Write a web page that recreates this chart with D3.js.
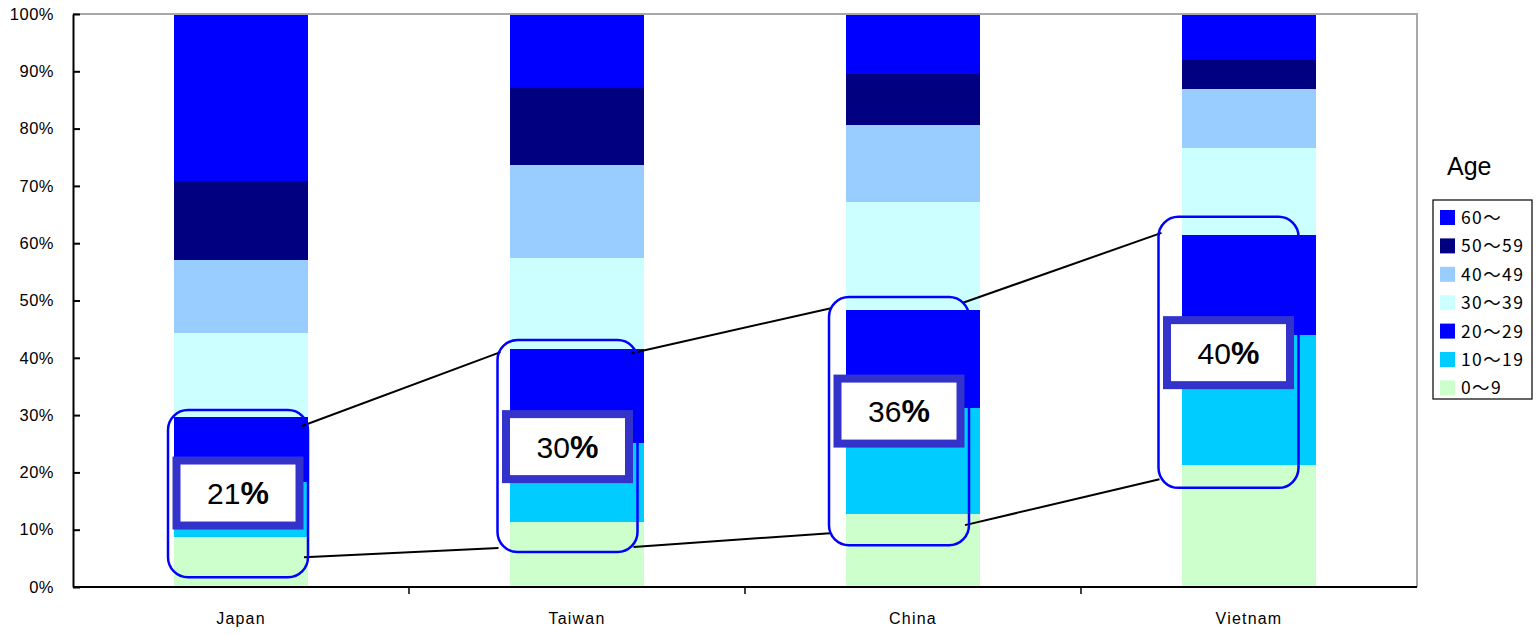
<!DOCTYPE html>
<html>
<head>
<meta charset="utf-8">
<script src="https://cdn.jsdelivr.net/npm/d3@7"></script>
<style>
  html, body { margin: 0; padding: 0; background: #fff; }
  svg { display: block; }
</style>
</head>
<body>
<svg id="chart" width="1537" height="635"></svg>
<script>
// Share of each age group (%), stacked from youngest to oldest
const countries = ["Japan", "Taiwan", "China", "Vietnam"];
const ageGroups = ["0～9", "10～19", "20～29", "30～39", "40～49", "50～59", "60～"];
const age0to9   = [8.7, 11.4, 12.7, 21.3];
const age10to19 = [9.7, 13.8, 18.6, 22.6];
const age20to29 = [11.3, 16.4, 17.0, 17.5];
const age30to39 = [14.7, 15.9, 18.9, 15.3];
const age40to49 = [12.7, 16.1, 13.4, 10.2];
const age50to59 = [13.8, 13.5, 8.9, 5.1];
const age60plus = [29.1, 12.9, 10.5, 8.0];
const yTicks = [0, 10, 20, 30, 40, 50, 60, 70, 80, 90, 100];

// Callout range around the 10–29 bracket (in % units)
const calloutTop    = [30.9, 43.1, 50.6, 64.6];
const calloutBottom = [1.7, 6.1, 7.3, 17.3];
const labelCenter   = [16.4, 24.5, 30.7, 40.9];

// Connector heights (in % units) leaving one callout and reaching the next
const upperFrom = [28.1, 40.8, 49.6];
const upperTo   = [41.0, 48.7, 61.8];
const lowerFrom = [5.2, 7.0, 10.8];
const lowerTo   = [6.8, 9.4, 18.8];

const colors = {
  "0～9": "#CCFFCC",
  "10～19": "#00CCFF",
  "20～29": "#0000FF",
  "30～39": "#CCFFFF",
  "40～49": "#99CCFF",
  "50～59": "#000080",
  "60～": "#0000FF"
};

const seriesValues = [age0to9, age10to19, age20to29, age30to39, age40to49, age50to59, age60plus];
const rows = countries.map((c, i) => {
  const r = { country: c };
  ageGroups.forEach((g, k) => { r[g] = seriesValues[k][i]; });
  return r;
});

const svg = d3.select("#chart");
const plot = { left: 73, right: 1417, top: 14, bottom: 587 };

const x = d3.scaleBand().domain(countries)
  .range([plot.left, plot.right]).paddingInner(0.6).paddingOuter(0.3);
const y = d3.scaleLinear().domain([0, 100]).range([plot.bottom, plot.top]);

const layers = d3.stack().keys(ageGroups)(rows);

// Bars
svg.append("g").selectAll("g").data(layers).join("g")
  .attr("fill", d => colors[d.key])
  .selectAll("rect").data(d => d).join("rect")
  .attr("x", d => x(d.data.country))
  .attr("width", x.bandwidth())
  .attr("y", d => y(d[1]))
  .attr("height", d => y(d[0]) - y(d[1]))
  .attr("shape-rendering", "crispEdges");

// Plot frame: grey top/right
svg.append("path")
  .attr("d", `M${plot.left},${plot.top}H${plot.right}V${plot.bottom}`)
  .attr("fill", "none").attr("stroke", "#a8a8a8").attr("stroke-width", 2);

// Y axis with inward ticks
const yAxis = d3.axisLeft(y).tickValues(yTicks)
  .tickFormat(d => d + "%").tickSizeInner(-7).tickSizeOuter(0).tickPadding(19);
const gy = svg.append("g").attr("transform", `translate(${plot.left},0)`).call(yAxis);
gy.select(".domain").attr("stroke", "#000").attr("stroke-width", 2);
gy.selectAll(".tick line").attr("stroke", "#000").attr("stroke-width", 2);
gy.selectAll("text").attr("font-family", "'Liberation Sans', Arial, sans-serif")
  .attr("font-size", 16.5).attr("fill", "#000").attr("letter-spacing", 0.5);

// X axis: baseline, separators between categories and labels
const step = x.step();
svg.append("line")
  .attr("x1", plot.left).attr("x2", plot.right)
  .attr("y1", plot.bottom).attr("y2", plot.bottom)
  .attr("stroke", "#000").attr("stroke-width", 2);
svg.append("g").selectAll("line").data(countries.slice(1)).join("line")
  .attr("x1", c => x(c) - (step - x.bandwidth()) / 2)
  .attr("x2", c => x(c) - (step - x.bandwidth()) / 2)
  .attr("y1", plot.bottom).attr("y2", plot.bottom + 7)
  .attr("stroke", "#000").attr("stroke-width", 1.5);
svg.append("g").selectAll("text").data(countries).join("text")
  .attr("x", c => x(c) + x.bandwidth() / 2)
  .attr("y", 624)
  .attr("text-anchor", "middle")
  .attr("font-family", "'Liberation Sans', Arial, sans-serif")
  .attr("font-size", 16).attr("letter-spacing", 1.2)
  .text(c => c);

// Callouts around the 10–29 share
const calloutShift = [-3, -9.5, -14, -20.5];
const boxW = 140;
const boxes = countries.map((c, i) => {
  const cx = x(c) + x.bandwidth() / 2 + calloutShift[i];
  return {
    cx,
    x0: cx - boxW / 2,
    x1: cx + boxW / 2,
    top: y(calloutTop[i]),
    bottom: y(calloutBottom[i]),
    labelY: y(labelCenter[i]),
    share: age10to19[i] + age20to29[i]
  };
});

// Connecting lines between neighbouring callouts
const links = d3.pairs(boxes).map((p, i) => ({ a: p[0], b: p[1], i }));
const gLinks = svg.append("g").attr("stroke", "#000").attr("stroke-width", 2);
gLinks.selectAll("line.up").data(links).join("line").attr("class", "up")
  .attr("x1", d => d.a.x1 - 6).attr("y1", d => y(upperFrom[d.i]))
  .attr("x2", d => d.b.x0 + 3).attr("y2", d => y(upperTo[d.i]));
gLinks.selectAll("line.down").data(links).join("line").attr("class", "down")
  .attr("x1", d => d.a.x1 - 4).attr("y1", d => y(lowerFrom[d.i]))
  .attr("x2", d => d.b.x0 + 1).attr("y2", d => y(lowerTo[d.i]));

svg.append("g").selectAll("rect").data(boxes).join("rect")
  .attr("x", d => d.x0).attr("y", d => d.top)
  .attr("width", boxW).attr("height", d => d.bottom - d.top)
  .attr("rx", 20).attr("ry", 20)
  .attr("fill", "none").attr("stroke", "#0000FF").attr("stroke-width", 2.5);

// Share labels
const labW = 123, labH = 65;
const gLab = svg.append("g").selectAll("g").data(boxes).join("g")
  .attr("transform", d => `translate(${d.cx},${d.labelY})`);
gLab.append("rect")
  .attr("x", -labW / 2).attr("y", -labH / 2)
  .attr("width", labW).attr("height", labH)
  .attr("fill", "#fff").attr("stroke", "#3333CC").attr("stroke-width", 8);
const lt = gLab.append("text")
  .attr("text-anchor", "middle").attr("y", 11)
  .attr("font-family", "'Liberation Sans', Arial, sans-serif")
  .attr("font-size", 30).attr("fill", "#000");
lt.append("tspan").text(d => Math.round(d.share));
lt.append("tspan").attr("font-weight", "bold").attr("font-size", 32).text("%");

// Legend
const legend = svg.append("g");
legend.append("text").attr("x", 1447).attr("y", 175)
  .attr("font-family", "'Liberation Sans', Arial, sans-serif")
  .attr("font-size", 25).text("Age");
legend.append("rect").attr("x", 1433).attr("y", 200)
  .attr("width", 99).attr("height", 199)
  .attr("fill", "#fff").attr("stroke", "#000").attr("stroke-width", 1.2);
const legendItems = ageGroups.slice().reverse();
const li = legend.selectAll("g.item").data(legendItems).join("g").attr("class", "item")
  .attr("transform", (d, i) => `translate(1440,${210 + i * 28.4})`);
li.append("rect").attr("width", 15).attr("height", 15).attr("fill", d => colors[d]);
li.append("text").attr("x", 21).attr("y", 14)
  .attr("font-family", "'Noto Sans CJK JP', 'Liberation Sans', sans-serif")
  .attr("font-size", 17.5).attr("letter-spacing", 1.4)
  .text(d => d);
</script>
</body>
</html>
